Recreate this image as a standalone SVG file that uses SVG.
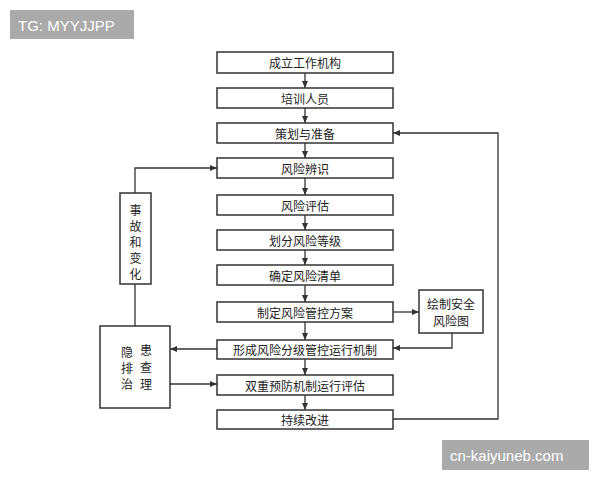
<svg xmlns="http://www.w3.org/2000/svg" width="600" height="480" viewBox="0 0 600 480">
<style>
.b{fill:#fff;stroke:#333;stroke-width:1.5}
.t{font-family:"Noto Sans CJK SC","Liberation Sans",sans-serif;font-size:12px;fill:#222;text-anchor:middle;dominant-baseline:central}
.l{fill:none;stroke:#333;stroke-width:1.3}
.w{font-family:"Liberation Sans",sans-serif;font-size:15px;fill:#fff;dominant-baseline:central}
</style>
<defs><marker id="a" markerWidth="8" markerHeight="8" refX="7" refY="4" orient="auto" markerUnits="userSpaceOnUse"><path d="M0,1 L7,4 L0,7Z" fill="#333"/></marker></defs>
<rect width="600" height="480" fill="#fff"/>
<g id="n1"><rect class="b" x="217" y="52" width="176" height="21"/><text class="t" x="305" y="62.5">成立工作机构</text></g>
<g id="n2"><rect class="b" x="217" y="88" width="176" height="20"/><text class="t" x="305" y="98">培训人员</text></g>
<g id="n3"><rect class="b" x="217" y="123" width="176" height="20"/><text class="t" x="305" y="133">策划与准备</text></g>
<g id="n4"><rect class="b" x="217" y="158" width="176" height="20"/><text class="t" x="305" y="168">风险辨识</text></g>
<g id="n5"><rect class="b" x="217" y="195" width="176" height="20"/><text class="t" x="305" y="205">风险评估</text></g>
<g id="n6"><rect class="b" x="217" y="230" width="176" height="20"/><text class="t" x="305" y="240">划分风险等级</text></g>
<g id="n7"><rect class="b" x="217" y="265" width="176" height="20"/><text class="t" x="305" y="275">确定风险清单</text></g>
<g id="n8"><rect class="b" x="217" y="302" width="176" height="20"/><text class="t" x="305" y="312">制定风险管控方案</text></g>
<g id="n9"><rect class="b" x="217" y="340" width="176" height="19"/><text class="t" x="305" y="349.5">形成风险分级管控运行机制</text></g>
<g id="n10"><rect class="b" x="217" y="375" width="176" height="20"/><text class="t" x="305" y="385">双重预防机制运行评估</text></g>
<g id="n11"><rect class="b" x="217" y="410" width="176" height="19"/><text class="t" x="305" y="419.5">持续改进</text></g>
<g id="n12"><rect class="b" x="120" y="193" width="31" height="91"/><text class="t" x="135.5" y="209">事</text><text class="t" x="135.5" y="225">故</text><text class="t" x="135.5" y="241">和</text><text class="t" x="135.5" y="257">变</text><text class="t" x="135.5" y="273">化</text></g>
<g id="n13"><rect class="b" x="100" y="326" width="70" height="82"/><text class="t" x="127" y="351">隐</text><text class="t" x="127" y="367">排</text><text class="t" x="127" y="383">治</text><text class="t" x="146" y="349">患</text><text class="t" x="146" y="366">查</text><text class="t" x="146" y="383">理</text></g>
<g id="n14"><rect class="b" x="419" y="290" width="64" height="43"/><text class="t" x="451" y="303">绘制安全</text><text class="t" x="451" y="320">风险图</text></g>
<g id="connectors">
<path class="l" marker-end="url(#a)" d="M305,73V88"/>
<path class="l" marker-end="url(#a)" d="M305,108V123"/>
<path class="l" marker-end="url(#a)" d="M305,143V158"/>
<path class="l" marker-end="url(#a)" d="M305,178V195"/>
<path class="l" marker-end="url(#a)" d="M305,215V230"/>
<path class="l" marker-end="url(#a)" d="M305,250V265"/>
<path class="l" marker-end="url(#a)" d="M305,285V302"/>
<path class="l" marker-end="url(#a)" d="M305,322V340"/>
<path class="l" marker-end="url(#a)" d="M305,359V375"/>
<path class="l" marker-end="url(#a)" d="M305,395V410"/>
<path class="l" marker-end="url(#a)" d="M135,193V168H217"/>
<path class="l" d="M135,284V326"/>
<path class="l" marker-end="url(#a)" d="M217,349H170"/>
<path class="l" marker-end="url(#a)" d="M170,384H217"/>
<path class="l" marker-end="url(#a)" d="M393,312H419"/>
<path class="l" marker-end="url(#a)" d="M452,333V348H393"/>
<path class="l" marker-end="url(#a)" d="M393,419H498V133H393"/>
</g>
<rect x="10" y="10" width="124" height="29" fill="#aaa"/><text class="w" x="18" y="25">TG: MYYJJPP</text>
<rect x="442" y="440" width="147" height="30" fill="#aaa"/><text class="w" x="450" y="455.5">cn-kaiyuneb.com</text>
</svg>
